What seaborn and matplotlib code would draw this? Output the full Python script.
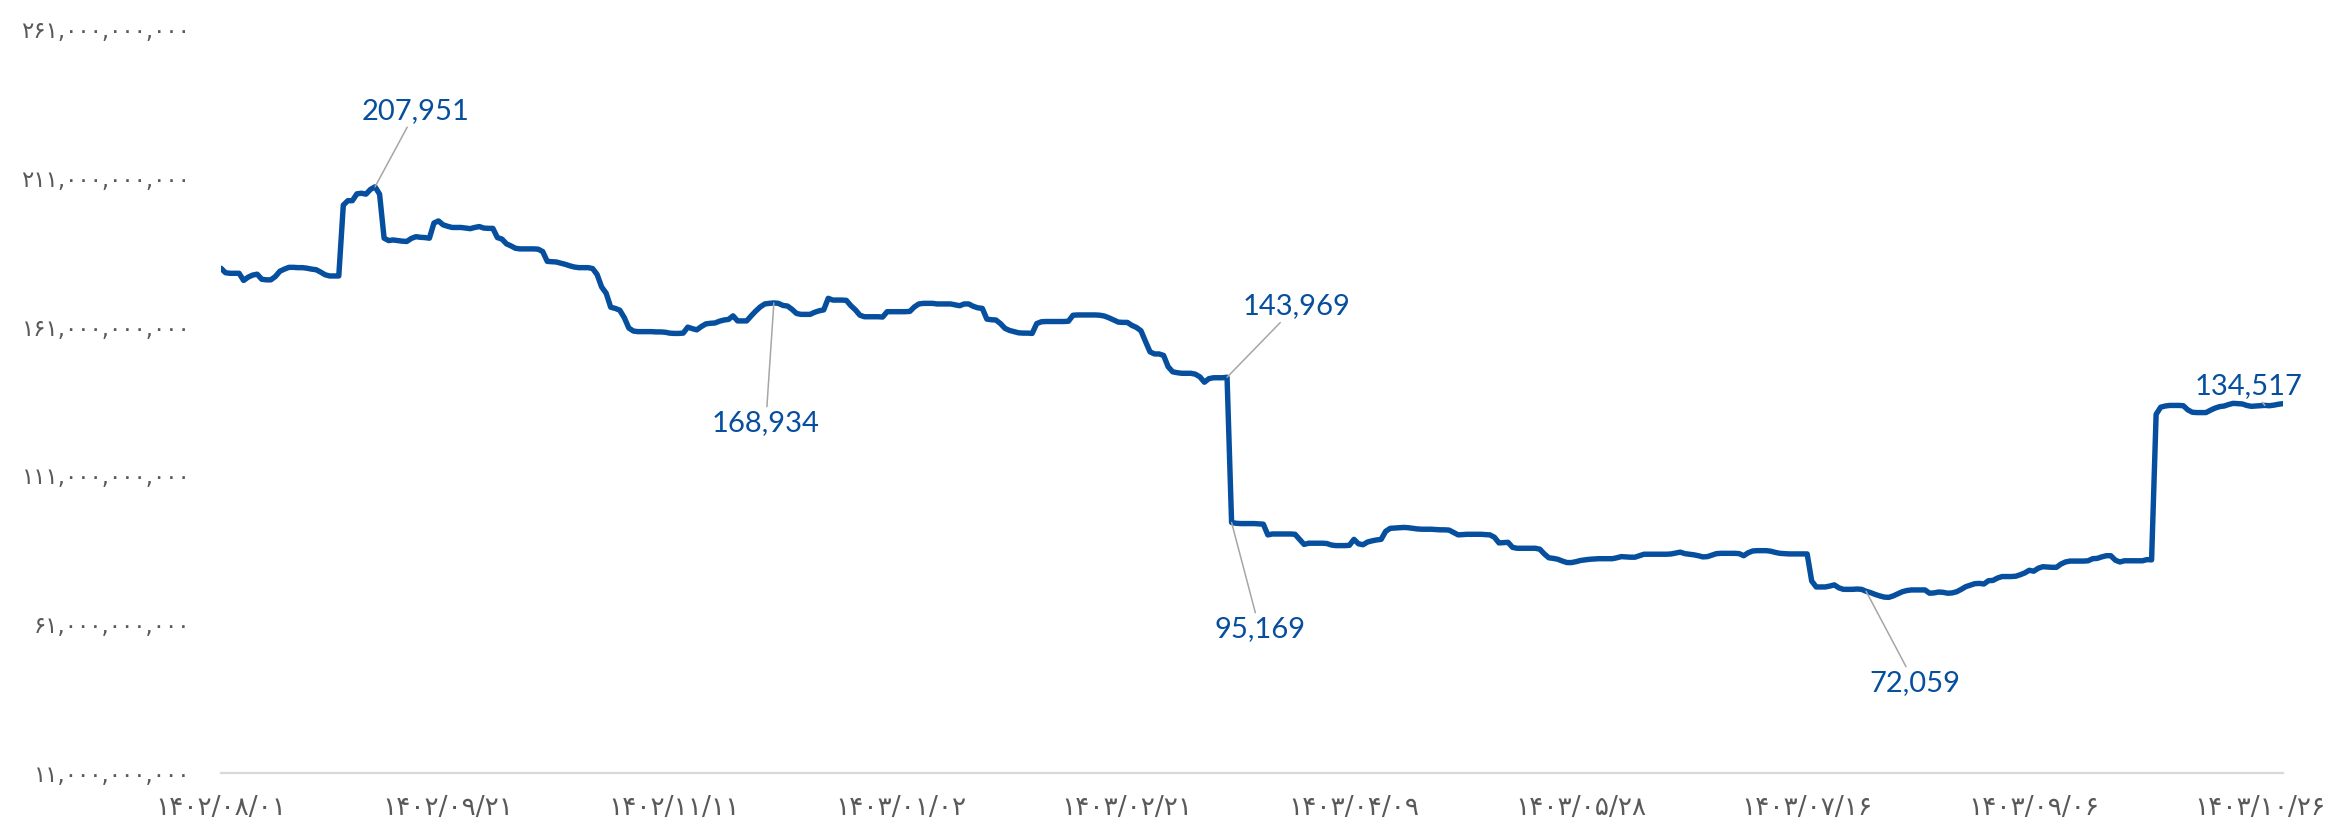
import numpy as np
import pandas as pd
import matplotlib
matplotlib.use("Agg")
import matplotlib.pyplot as plt
import seaborn as sns

# daily values, billions (one point per calendar day, 1402/08/01 onwards)
values = [
    180.6, 179.1, 178.9, 178.9, 178.9, 176.5, 177.6, 178.3, 178.6, 176.9,
    176.7, 176.7, 177.8, 179.6, 180.3, 180.9, 180.9, 180.8, 180.8, 180.6,
    180.3, 180.1, 179.3, 178.4, 178.0, 178.0, 178.0, 201.8, 203.3, 203.3,
    205.6, 205.8, 205.5, 207.1, 207.951, 205.5, 190.7, 189.9, 190.1, 189.9,
    189.7, 189.6, 190.6, 191.2, 191.0, 190.9, 190.7, 195.8, 196.5, 195.2,
    194.7, 194.3, 194.3, 194.3, 194.1, 193.9, 194.3, 194.6, 194.1, 194.0,
    194.0, 190.9, 190.4, 188.8, 188.1, 187.3, 187.1, 187.1, 187.1, 187.1,
    187.0, 186.2, 182.9, 182.8, 182.7, 182.3, 181.9, 181.4, 181.0, 180.8,
    180.8, 180.8, 180.5, 178.5, 174.3, 172.2, 167.5, 167.1, 166.5, 164.0,
    160.5, 159.5, 159.3, 159.3, 159.3, 159.3, 159.2, 159.2, 159.1, 158.8,
    158.7, 158.7, 158.8, 160.8, 160.3, 159.9, 161.0, 161.9, 162.1, 162.2,
    162.8, 163.2, 163.4, 164.6, 162.9, 162.9, 162.9, 164.6, 166.2, 167.6,
    168.6, 168.8, 168.934, 168.8, 168.1, 167.9, 166.8, 165.4, 165.1, 165.1,
    165.1, 165.8, 166.3, 166.6, 170.5, 169.9, 169.9, 169.9, 169.8, 168.0,
    166.6, 164.8, 164.3, 164.3, 164.3, 164.3, 164.2, 166.0, 166.0, 166.0,
    166.0, 166.0, 166.1, 167.6, 168.6, 168.8, 168.8, 168.8, 168.6, 168.6,
    168.6, 168.6, 168.3, 168.0, 168.6, 168.6, 167.8, 167.3, 167.1, 163.5,
    163.3, 163.2, 162.0, 160.4, 159.7, 159.3, 158.9, 158.8, 158.8, 158.7,
    162.0, 162.6, 162.7, 162.7, 162.7, 162.7, 162.7, 162.8, 164.8, 164.9,
    164.9, 164.9, 164.9, 164.9, 164.8, 164.5, 163.9, 163.2, 162.5, 162.4,
    162.4, 161.4, 160.7, 159.6, 156.0, 152.5, 151.8, 151.8, 151.3, 147.5,
    145.8, 145.5, 145.3, 145.3, 145.3, 145.0, 144.1, 142.3, 143.5, 143.8,
    143.8, 143.8, 143.969, 95.169, 94.9, 94.8, 94.8, 94.8, 94.8, 94.7,
    94.6, 91.0, 91.3, 91.3, 91.3, 91.3, 91.3, 91.2, 89.5, 87.8,
    88.2, 88.2, 88.2, 88.2, 88.1, 87.6, 87.4, 87.4, 87.4, 87.5,
    89.5, 88.0, 87.7, 88.6, 89.0, 89.3, 89.5, 92.2, 93.2, 93.3,
    93.4, 93.5, 93.4, 93.2, 93.0, 92.9, 92.9, 92.9, 92.8, 92.7,
    92.7, 92.6, 91.8, 91.0, 91.1, 91.2, 91.2, 91.2, 91.2, 91.1,
    91.0, 90.2, 88.3, 88.4, 88.5, 86.8, 86.5, 86.5, 86.5, 86.5,
    86.5, 86.2, 84.6, 83.3, 83.1, 82.8, 82.2, 81.7, 81.7, 82.0,
    82.4, 82.6, 82.8, 82.9, 83.0, 83.0, 83.0, 83.0, 83.3, 83.7,
    83.6, 83.5, 83.5, 84.0, 84.5, 84.5, 84.5, 84.5, 84.5, 84.5,
    84.6, 84.9, 85.2, 84.7, 84.5, 84.3, 84.0, 83.6, 83.7, 84.2,
    84.7, 84.8, 84.8, 84.8, 84.8, 84.7, 84.0, 85.0, 85.6, 85.7,
    85.7, 85.7, 85.5, 85.1, 84.8, 84.7, 84.6, 84.6, 84.6, 84.6,
    84.6, 75.5, 73.5, 73.5, 73.5, 73.8, 74.2, 73.2, 72.7, 72.7,
    72.7, 72.8, 72.7, 72.059, 71.6, 71.0, 70.5, 70.1, 70.0, 70.5,
    71.2, 71.9, 72.3, 72.5, 72.5, 72.5, 72.5, 71.4, 71.5, 71.8,
    71.7, 71.4, 71.5, 71.9, 72.7, 73.6, 74.1, 74.6, 74.7, 74.5,
    75.6, 75.7, 76.5, 77.0, 77.0, 77.0, 77.1, 77.6, 78.2, 79.1,
    78.8, 79.8, 80.3, 80.2, 80.1, 80.1, 81.2, 81.9, 82.2, 82.2,
    82.2, 82.2, 82.3, 83.0, 83.1, 83.6, 84.0, 84.0, 82.5, 81.9,
    82.3, 82.3, 82.3, 82.3, 82.3, 82.7, 82.6, 131.5, 133.9, 134.3,
    134.5, 134.5, 134.5, 134.4, 133.0, 132.2, 132.1, 132.1, 132.1, 132.9,
    133.6, 134.1, 134.3, 134.8, 135.2, 135.1, 135.0, 134.5, 134.2, 134.3,
    134.4, 134.517, 134.4, 134.6, 134.9, 135.1,
]

date_labels = ['۱۴۰۲/۰۸/۰۱', '۱۴۰۲/۰۹/۲۱', '۱۴۰۲/۱۱/۱۱', '۱۴۰۳/۰۱/۰۲', '۱۴۰۳/۰۲/۲۱',
               '۱۴۰۳/۰۴/۰۹', '۱۴۰۳/۰۵/۲۸', '۱۴۰۳/۰۷/۱۶', '۱۴۰۳/۰۹/۰۶', '۱۴۰۳/۱۰/۲۶']
label_step = 50

# annotated points: index -> text offset in points (dx, dy)
annot_idx = [34, 122, 222, 223, 363, 451]
annot_off = [(29.5, 54.7), (-5.8, -86.4), (49.7, 51.1), (20.2, -76.7), (35, -66), (-12, 14)]

y_ticks = [11e9, 61e9, 111e9, 161e9, 211e9, 261e9]

fa_digits = str.maketrans('0123456789', '۰۱۲۳۴۵۶۷۸۹')

df = pd.DataFrame({'day': np.arange(len(values)), 'value': np.array(values) * 1e9})

sns.set_style('white')
plt.rcParams['font.family'] = ['DejaVu Sans']

fig = plt.figure(figsize=(23.43, 8.23), dpi=100)
ax = fig.add_axes([0.0943, 0.0608, 0.8801, 0.904])

blue = '#064E9E'
sns.lineplot(data=df, x='day', y='value', ax=ax, color=blue, linewidth=3.9,
             solid_joinstyle='round', solid_capstyle='round')

ax.set_xlim(0, len(values) - 1)
ax.set_ylim(y_ticks[0], y_ticks[-1])
ax.set_xlabel('')
ax.set_ylabel('')

ax.set_yticks(y_ticks)
ax.set_yticklabels([f'{v:,.0f}'.translate(fa_digits) for v in y_ticks])
ax.set_xticks(np.arange(len(date_labels)) * label_step)
ax.set_xticklabels(date_labels)
ax.tick_params(axis='y', length=0, pad=22, labelsize=16.5, labelcolor='#595959')
ax.tick_params(axis='x', length=0, pad=16, labelsize=19, labelcolor='#595959')

for s in ['top', 'right', 'left']:
    ax.spines[s].set_visible(False)
ax.spines['bottom'].set_color('#D9D9D9')
ax.spines['bottom'].set_linewidth(1.6)

for i, off in zip(annot_idx, annot_off):
    v = values[i]
    ax.annotate(f'{v * 1000:,.0f}', xy=(i, v * 1e9), xytext=off, textcoords='offset points',
                ha='center', va='center', fontsize=21, color=blue, family='Lato',
                arrowprops=dict(arrowstyle='-', color='#A6A6A6', lw=1.1,
                                shrinkA=0, shrinkB=0))

fig.savefig('out.png', dpi=100)
